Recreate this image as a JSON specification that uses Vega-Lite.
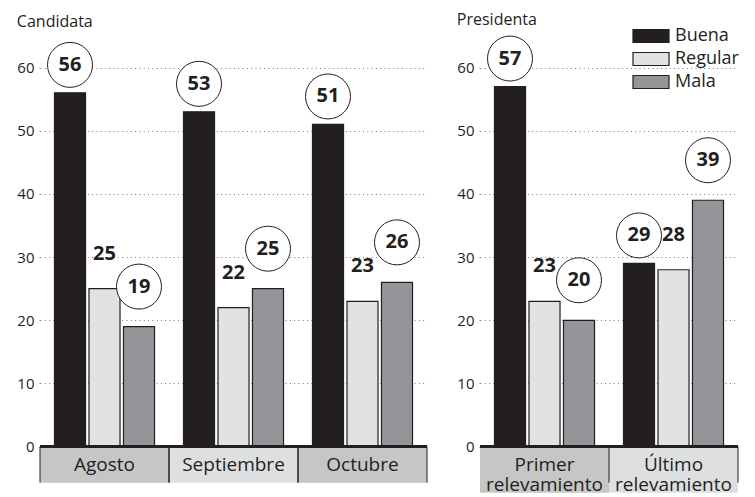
{
  "$schema": "https://vega.github.io/schema/vega-lite/v6.json",
  "padding": {"left": 16, "top": 12, "right": 0, "bottom": 5},
  "bounds": "flush",
  "spacing": 53,
  "background": "white",
  "config": {
    "view": {"stroke": null},
    "font": "Open Sans",
    "title": {"fontSize": 16, "fontWeight": "normal", "color": "#231f20", "anchor": "start", "frame": "bounds", "offset": 6},
    "axisY": {
      "title": null,
      "domain": false,
      "grid": true,
      "gridColor": "#777777",
      "gridDash": [1, 3.3],
      "gridWidth": 1,
      "ticks": true,
      "tickColor": "#777777",
      "tickDash": [1, 3.3],
      "tickSize": 4,
      "labelPadding": 2,
      "labelFontSize": 15,
      "labelColor": "#231f20",
      "labelFont": "Open Sans"
    }
  },
  "datasets": {
    "cand": [
      {"cat": "Agosto", "serie": "Buena", "value": 56},
      {"cat": "Agosto", "serie": "Regular", "value": 25},
      {"cat": "Agosto", "serie": "Mala", "value": 19},
      {"cat": "Septiembre", "serie": "Buena", "value": 53},
      {"cat": "Septiembre", "serie": "Regular", "value": 22},
      {"cat": "Septiembre", "serie": "Mala", "value": 25},
      {"cat": "Octubre", "serie": "Buena", "value": 51},
      {"cat": "Octubre", "serie": "Regular", "value": 23},
      {"cat": "Octubre", "serie": "Mala", "value": 26}
    ],
    "pres": [
      {"cat": "Primer relevamiento", "serie": "Buena", "value": 57},
      {"cat": "Primer relevamiento", "serie": "Regular", "value": 23},
      {"cat": "Primer relevamiento", "serie": "Mala", "value": 20},
      {"cat": "Último relevamiento", "serie": "Buena", "value": 29},
      {"cat": "Último relevamiento", "serie": "Regular", "value": 28},
      {"cat": "Último relevamiento", "serie": "Mala", "value": 39}
    ]
  },
  "resolve": {"legend": {"color": "shared"}},
  "hconcat": [
    {
      "width": 387,
      "height": 458,
      "title": {"text": "Candidata"},
      "data": {"name": "cand"},
      "layer": [
        {
          "transform": [{"filter": "datum.serie === 'Buena'"}],
          "mark": {"type": "rect"},
          "encoding": {
            "x": {"field": "cat", "type": "nominal", "sort": ["Agosto", "Septiembre", "Octubre"], "axis": null, "scale": {"paddingInner": 0, "paddingOuter": 0}},
            "y": {"datum": 0},
            "y2": {"datum": -5.7},
            "fill": {"field": "cat", "type": "nominal", "legend": null, "scale": {"domain": ["Agosto", "Septiembre", "Octubre", "Primer relevamiento", "Último relevamiento"], "range": ["#c6c6c6", "#dedfe1", "#c6c6c6", "#c6c6c6", "#dedfe1"]}}
          }
        },
        {
          "transform": [{"filter": "datum.serie === 'Buena'"}],
          "mark": {"type": "rule", "color": "#231f20", "strokeWidth": 1},
          "encoding": {
            "x": {"field": "cat", "type": "nominal", "sort": ["Agosto", "Septiembre", "Octubre"], "bandPosition": 0},
            "y": {"datum": 0},
            "y2": {"datum": -5.7}
          }
        },
        {
          "transform": [{"filter": "datum.serie === 'Buena'"}],
          "mark": {"type": "rule", "color": "#231f20", "strokeWidth": 1},
          "encoding": {
            "x": {"field": "cat", "type": "nominal", "sort": ["Agosto", "Septiembre", "Octubre"], "bandPosition": 1},
            "y": {"datum": 0},
            "y2": {"datum": -5.7}
          }
        },
        {
          "transform": [{"filter": "datum.serie === 'Buena'"}],
          "mark": {"type": "text", "fontSize": 19, "color": "#231f20", "baseline": "middle", "align": "center"},
          "encoding": {
            "x": {"field": "cat", "type": "nominal", "sort": ["Agosto", "Septiembre", "Octubre"]},
            "y": {"datum": -2.85},
            "text": {"field": "cat"}
          }
        },
        {
          "mark": {"type": "bar", "stroke": "#231f20", "strokeWidth": 1.2},
          "encoding": {
            "x": {"field": "cat", "type": "nominal", "sort": ["Agosto", "Septiembre", "Octubre"]},
            "xOffset": {"field": "serie", "type": "nominal", "sort": ["Buena", "Regular", "Mala"], "scale": {"paddingInner": 0.1, "paddingOuter": 0.42}},
            "y": {"field": "value", "type": "quantitative", "scale": {"domain": [-7.5, 65], "nice": false, "zero": false}, "axis": {"title": null, "values": [0, 10, 20, 30, 40, 50, 60]}},
            "color": {
              "field": "serie", "type": "nominal",
              "scale": {"domain": ["Buena", "Regular", "Mala"], "range": ["#231f20", "#e1e2e4", "#939598"]},
              "legend": {"orient": "none", "legendX": 602, "legendY": -9, "title": null, "symbolType": "M-2.77,-1H2.77V1H-2.77Z", "symbolSize": 169, "symbolStrokeColor": "#231f20", "symbolStrokeWidth": 1.2, "labelFontSize": 18, "labelFont": "Open Sans", "labelColor": "#231f20", "rowPadding": 5, "labelOffset": 15, "padding": 0}
            }
          }
        },
        {
          "mark": {"type": "rule", "color": "#231f20", "strokeWidth": 3},
          "encoding": {"y": {"datum": 0}}
        },
        {
          "transform": [{"filter": "datum.serie === 'Buena'"}],
          "mark": {"type": "point", "shape": "M-1,-1.244A1,1,0,1,0,1,-1.244A1,1,0,1,0,-1,-1.244Z", "size": 2025, "filled": true, "fill": "white", "stroke": "#231f20", "strokeWidth": 1, "opacity": 1},
          "encoding": {
            "x": {"field": "cat", "type": "nominal", "sort": ["Agosto", "Septiembre", "Octubre"]},
            "xOffset": {"field": "serie", "type": "nominal", "sort": ["Buena", "Regular", "Mala"]},
            "y": {"field": "value", "type": "quantitative"}
          }
        },
        {
          "transform": [{"filter": "datum.serie === 'Mala'"}],
          "mark": {"type": "point", "shape": "M-1,-1.778A1,1,0,1,0,1,-1.778A1,1,0,1,0,-1,-1.778Z", "size": 2025, "filled": true, "fill": "white", "stroke": "#231f20", "strokeWidth": 1, "opacity": 1},
          "encoding": {
            "x": {"field": "cat", "type": "nominal", "sort": ["Agosto", "Septiembre", "Octubre"]},
            "xOffset": {"field": "serie", "type": "nominal", "sort": ["Buena", "Regular", "Mala"]},
            "y": {"field": "value", "type": "quantitative"}
          }
        },
        {
          "transform": [{"filter": "datum.serie === 'Buena'"}],
          "mark": {"type": "text", "fontSize": 20, "fontWeight": "bold", "color": "#231f20", "baseline": "middle", "dy": -28},
          "encoding": {
            "x": {"field": "cat", "type": "nominal", "sort": ["Agosto", "Septiembre", "Octubre"]},
            "xOffset": {"field": "serie", "type": "nominal", "sort": ["Buena", "Regular", "Mala"]},
            "y": {"field": "value", "type": "quantitative"},
            "text": {"field": "value"}
          }
        },
        {
          "transform": [{"filter": "datum.serie === 'Mala'"}],
          "mark": {"type": "text", "fontSize": 20, "fontWeight": "bold", "color": "#231f20", "baseline": "middle", "dy": -40},
          "encoding": {
            "x": {"field": "cat", "type": "nominal", "sort": ["Agosto", "Septiembre", "Octubre"]},
            "xOffset": {"field": "serie", "type": "nominal", "sort": ["Buena", "Regular", "Mala"]},
            "y": {"field": "value", "type": "quantitative"},
            "text": {"field": "value"}
          }
        },
        {
          "transform": [{"filter": "datum.serie === 'Regular'"}],
          "mark": {"type": "text", "fontSize": 20, "fontWeight": "bold", "color": "#231f20", "baseline": "middle", "dy": -35},
          "encoding": {
            "x": {"field": "cat", "type": "nominal", "sort": ["Agosto", "Septiembre", "Octubre"]},
            "xOffset": {"field": "serie", "type": "nominal", "sort": ["Buena", "Regular", "Mala"]},
            "y": {"field": "value", "type": "quantitative"},
            "text": {"field": "value"}
          }
        }
      ]
    },
    {
      "width": 258,
      "height": 458,
      "title": {"text": "Presidenta"},
      "data": {"name": "pres"},
      "layer": [
        {
          "transform": [{"filter": "datum.serie === 'Buena'"}],
          "mark": {"type": "rect"},
          "encoding": {
            "x": {"field": "cat", "type": "nominal", "sort": ["Primer relevamiento", "Último relevamiento"], "axis": null, "scale": {"paddingInner": 0, "paddingOuter": 0}},
            "y": {"datum": 0},
            "y2": {"datum": -7.3},
            "fill": {"field": "cat", "type": "nominal", "legend": null, "scale": {"domain": ["Agosto", "Septiembre", "Octubre", "Primer relevamiento", "Último relevamiento"], "range": ["#c6c6c6", "#dedfe1", "#c6c6c6", "#c6c6c6", "#dedfe1"]}}
          }
        },
        {
          "transform": [{"filter": "datum.serie === 'Buena'"}],
          "mark": {"type": "rule", "color": "#231f20", "strokeWidth": 1},
          "encoding": {
            "x": {"field": "cat", "type": "nominal", "sort": ["Primer relevamiento", "Último relevamiento"], "bandPosition": 1},
            "y": {"datum": 0},
            "y2": {"datum": -5.7}
          }
        },
        {
          "transform": [{"filter": "datum.serie === 'Buena'"}],
          "mark": {"type": "text", "fontSize": 19, "color": "#231f20", "baseline": "middle", "align": "center", "lineBreak": " ", "lineHeight": 20},
          "encoding": {
            "x": {"field": "cat", "type": "nominal", "sort": ["Primer relevamiento", "Último relevamiento"]},
            "y": {"datum": -2.9},
            "text": {"field": "cat"}
          }
        },
        {
          "mark": {"type": "bar", "stroke": "#231f20", "strokeWidth": 1.2},
          "encoding": {
            "x": {"field": "cat", "type": "nominal", "sort": ["Primer relevamiento", "Último relevamiento"]},
            "xOffset": {"field": "serie", "type": "nominal", "sort": ["Buena", "Regular", "Mala"], "scale": {"paddingInner": 0.1, "paddingOuter": 0.42}},
            "y": {"field": "value", "type": "quantitative", "scale": {"domain": [-7.5, 65], "nice": false, "zero": false}, "axis": {"title": null, "values": [0, 10, 20, 30, 40, 50, 60]}},
            "color": {
              "field": "serie", "type": "nominal",
              "scale": {"domain": ["Buena", "Regular", "Mala"], "range": ["#231f20", "#e1e2e4", "#939598"]},
              "legend": {"orient": "none", "legendX": 602, "legendY": -9, "title": null, "symbolType": "M-2.77,-1H2.77V1H-2.77Z", "symbolSize": 169, "symbolStrokeColor": "#231f20", "symbolStrokeWidth": 1.2, "labelFontSize": 18, "labelFont": "Open Sans", "labelColor": "#231f20", "rowPadding": 5, "labelOffset": 15, "padding": 0}
            }
          }
        },
        {
          "mark": {"type": "rule", "color": "#231f20", "strokeWidth": 3},
          "encoding": {"y": {"datum": 0}}
        },
        {
          "transform": [{"filter": "datum.serie === 'Buena'"}],
          "mark": {"type": "point", "shape": "M-1,-1.244A1,1,0,1,0,1,-1.244A1,1,0,1,0,-1,-1.244Z", "size": 2025, "filled": true, "fill": "white", "stroke": "#231f20", "strokeWidth": 1, "opacity": 1},
          "encoding": {
            "x": {"field": "cat", "type": "nominal", "sort": ["Primer relevamiento", "Último relevamiento"]},
            "xOffset": {"field": "serie", "type": "nominal", "sort": ["Buena", "Regular", "Mala"]},
            "y": {"field": "value", "type": "quantitative"}
          }
        },
        {
          "transform": [{"filter": "datum.serie === 'Mala'"}],
          "mark": {"type": "point", "shape": "M-1,-1.778A1,1,0,1,0,1,-1.778A1,1,0,1,0,-1,-1.778Z", "size": 2025, "filled": true, "fill": "white", "stroke": "#231f20", "strokeWidth": 1, "opacity": 1},
          "encoding": {
            "x": {"field": "cat", "type": "nominal", "sort": ["Primer relevamiento", "Último relevamiento"]},
            "xOffset": {"field": "serie", "type": "nominal", "sort": ["Buena", "Regular", "Mala"]},
            "y": {"field": "value", "type": "quantitative"}
          }
        },
        {
          "transform": [{"filter": "datum.serie === 'Buena'"}],
          "mark": {"type": "text", "fontSize": 20, "fontWeight": "bold", "color": "#231f20", "baseline": "middle", "dy": -28},
          "encoding": {
            "x": {"field": "cat", "type": "nominal", "sort": ["Primer relevamiento", "Último relevamiento"]},
            "xOffset": {"field": "serie", "type": "nominal", "sort": ["Buena", "Regular", "Mala"]},
            "y": {"field": "value", "type": "quantitative"},
            "text": {"field": "value"}
          }
        },
        {
          "transform": [{"filter": "datum.serie === 'Mala'"}],
          "mark": {"type": "text", "fontSize": 20, "fontWeight": "bold", "color": "#231f20", "baseline": "middle", "dy": -40},
          "encoding": {
            "x": {"field": "cat", "type": "nominal", "sort": ["Primer relevamiento", "Último relevamiento"]},
            "xOffset": {"field": "serie", "type": "nominal", "sort": ["Buena", "Regular", "Mala"]},
            "y": {"field": "value", "type": "quantitative"},
            "text": {"field": "value"}
          }
        },
        {
          "transform": [{"filter": "datum.serie === 'Regular'"}],
          "mark": {"type": "text", "fontSize": 20, "fontWeight": "bold", "color": "#231f20", "baseline": "middle", "dy": -35},
          "encoding": {
            "x": {"field": "cat", "type": "nominal", "sort": ["Primer relevamiento", "Último relevamiento"]},
            "xOffset": {"field": "serie", "type": "nominal", "sort": ["Buena", "Regular", "Mala"]},
            "y": {"field": "value", "type": "quantitative"},
            "text": {"field": "value"}
          }
        }
      ]
    }
  ]
}
